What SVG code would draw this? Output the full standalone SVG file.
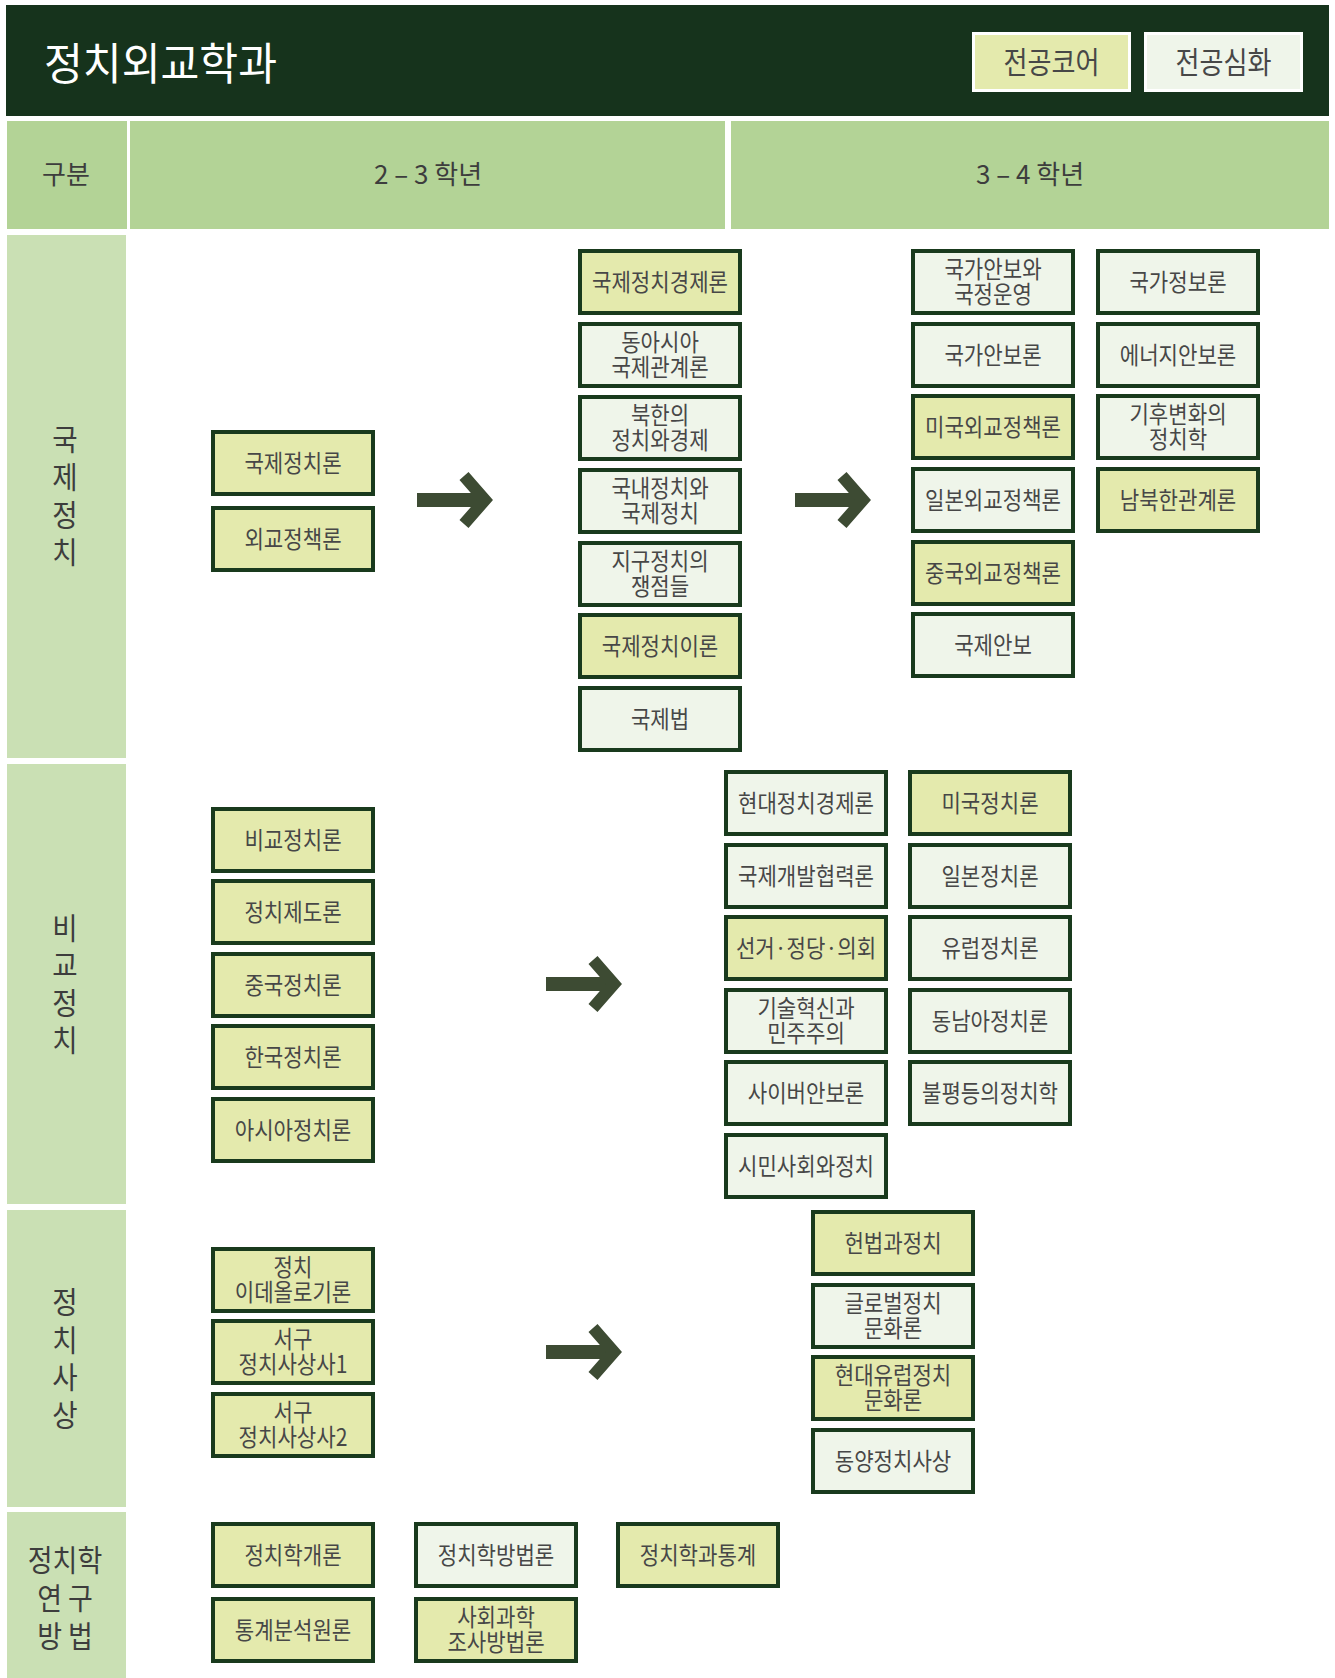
<svg xmlns="http://www.w3.org/2000/svg" width="1335" height="1678" viewBox="0 0 1335 1678">
  <defs>
    <style>
      .ko { font-family: "Noto Sans CJK KR", "Noto Sans", sans-serif; }
      .node rect { stroke: #193a1d; stroke-width: 4; }
      .core rect { fill: #e4eaad; }
      .adv rect { fill: #eff5ea; }
      .lbl { font-size: 24px; fill: #474747; text-anchor: middle; }
      .hdr { font-size: 26px; fill: #3d3d3d; text-anchor: middle; }
      .cat { font-size: 30px; fill: #3d3d3d; text-anchor: middle; }
      .legend rect { stroke: #ffffff; stroke-width: 3; }
      .legend text { font-size: 30px; fill: #474747; text-anchor: middle; }
      .arrow path { fill: none; stroke: #3d4b33; stroke-linejoin: miter; stroke-linecap: butt; }
    </style>
    <!-- right-pointing block arrow: shaft plus chevron head -->
    <g id="arrow-shape" class="arrow">
      <path d="M0 0 H70" stroke-width="14"/>
      <path d="M47 -24 L68 0 L47 24" stroke-width="12"/>
    </g>
  </defs>

  <rect width="1335" height="1678" fill="#ffffff"/>

  <!-- title bar -->
  <g id="title-bar">
    <rect x="6" y="5" width="1323" height="111" fill="#16331c"/>
    <text class="ko" transform="translate(44 80) scale(0.96 1)" font-size="44" fill="#ffffff">정치외교학과</text>
  </g>

  <!-- legend -->
  <g id="legend-core" class="legend core">
    <rect x="973.5" y="33.5" width="156" height="57" fill="#e4eaad"/>
    <text class="ko" transform="translate(1051.5 73) scale(0.87 1)">전공코어</text>
  </g>
  <g id="legend-adv" class="legend adv">
    <rect x="1145.5" y="33.5" width="156" height="57" fill="#eff5ea"/>
    <text class="ko" transform="translate(1223.5 73) scale(0.87 1)">전공심화</text>
  </g>

  <!-- column header row -->
  <g id="header-row">
    <rect x="7" y="121" width="120" height="108" fill="#b3d396"/>
    <rect x="130" y="121" width="595" height="108" fill="#b3d396"/>
    <rect x="731" y="121" width="598" height="108" fill="#b3d396"/>
    <text class="ko hdr" x="66" y="184">구분</text>
    <text class="ko hdr" x="428" y="184">2 – 3 학년</text>
    <text class="ko hdr" x="1030" y="184">3 – 4 학년</text>
  </g>

  <!-- category column -->
  <g id="categories">
    <rect x="7" y="235" width="119" height="523" fill="#cae0b4"/>
    <rect x="7" y="764" width="119" height="440" fill="#cae0b4"/>
    <rect x="7" y="1210" width="119" height="297" fill="#cae0b4"/>
    <rect x="7" y="1512" width="119" height="166" fill="#cae0b4"/>
    <g class="ko cat">
      <text transform="translate(65 0) scale(0.92 1)"><tspan x="0" y="450">국</tspan><tspan x="0" y="488">제</tspan><tspan x="0" y="526">정</tspan><tspan x="0" y="563">치</tspan></text>
      <text transform="translate(65 0) scale(0.92 1)"><tspan x="0" y="939">비</tspan><tspan x="0" y="976">교</tspan><tspan x="0" y="1014">정</tspan><tspan x="0" y="1051">치</tspan></text>
      <text transform="translate(65 0) scale(0.92 1)"><tspan x="0" y="1313">정</tspan><tspan x="0" y="1351">치</tspan><tspan x="0" y="1388">사</tspan><tspan x="0" y="1426">상</tspan></text>
      <text transform="translate(65 0) scale(0.9 1)"><tspan x="0" y="1571">정치학</tspan><tspan x="0" y="1609">연 구</tspan><tspan x="0" y="1647">방 법</tspan></text>
    </g>
  </g>

  <!-- connectors -->
  <g id="connectors">
    <use href="#arrow-shape" transform="translate(417 500)"/>
    <use href="#arrow-shape" transform="translate(795 500)"/>
    <use href="#arrow-shape" transform="translate(546 984)"/>
    <use href="#arrow-shape" transform="translate(546 1352)"/>
  </g>

  <!-- 국제정치 -->
  <g id="n-ip-theory" class="node core ko" transform="translate(211 430)"><rect x="2" y="2" width="160" height="62"/><text class="lbl" transform="translate(82 42) scale(0.88 1)">국제정치론</text></g>
  <g id="n-foreign-policy" class="node core ko" transform="translate(211 506)"><rect x="2" y="2" width="160" height="62"/><text class="lbl" transform="translate(82 42) scale(0.88 1)">외교정책론</text></g>

  <g id="n-ipe" class="node core ko" transform="translate(578 249)"><rect x="2" y="2" width="160" height="62"/><text class="lbl" transform="translate(82 42) scale(0.88 1)">국제정치경제론</text></g>
  <g id="n-east-asia-ir" class="node adv ko" transform="translate(578 322)"><rect x="2" y="2" width="160" height="62"/><text class="lbl" transform="translate(82 0) scale(0.88 1)"><tspan x="0" y="29">동아시아</tspan><tspan x="0" y="54">국제관계론</tspan></text></g>
  <g id="n-nk-politics" class="node adv ko" transform="translate(578 395)"><rect x="2" y="2" width="160" height="62"/><text class="lbl" transform="translate(82 0) scale(0.88 1)"><tspan x="0" y="29">북한의</tspan><tspan x="0" y="54">정치와경제</tspan></text></g>
  <g id="n-domestic-intl" class="node adv ko" transform="translate(578 468)"><rect x="2" y="2" width="160" height="62"/><text class="lbl" transform="translate(82 0) scale(0.88 1)"><tspan x="0" y="29">국내정치와</tspan><tspan x="0" y="54">국제정치</tspan></text></g>
  <g id="n-global-issues" class="node adv ko" transform="translate(578 541)"><rect x="2" y="2" width="160" height="62"/><text class="lbl" transform="translate(82 0) scale(0.88 1)"><tspan x="0" y="29">지구정치의</tspan><tspan x="0" y="54">쟁점들</tspan></text></g>
  <g id="n-ir-theory" class="node core ko" transform="translate(578 613)"><rect x="2" y="2" width="160" height="62"/><text class="lbl" transform="translate(82 42) scale(0.88 1)">국제정치이론</text></g>
  <g id="n-intl-law" class="node adv ko" transform="translate(578 686)"><rect x="2" y="2" width="160" height="62"/><text class="lbl" transform="translate(82 42) scale(0.88 1)">국제법</text></g>

  <g id="n-natsec-gov" class="node adv ko" transform="translate(911 249)"><rect x="2" y="2" width="160" height="62"/><text class="lbl" transform="translate(82 0) scale(0.88 1)"><tspan x="0" y="29">국가안보와</tspan><tspan x="0" y="54">국정운영</tspan></text></g>
  <g id="n-natsec" class="node adv ko" transform="translate(911 322)"><rect x="2" y="2" width="160" height="62"/><text class="lbl" transform="translate(82 42) scale(0.88 1)">국가안보론</text></g>
  <g id="n-us-fp" class="node core ko" transform="translate(911 394)"><rect x="2" y="2" width="160" height="62"/><text class="lbl" transform="translate(82 42) scale(0.88 1)">미국외교정책론</text></g>
  <g id="n-jp-fp" class="node adv ko" transform="translate(911 467)"><rect x="2" y="2" width="160" height="62"/><text class="lbl" transform="translate(82 42) scale(0.88 1)">일본외교정책론</text></g>
  <g id="n-cn-fp" class="node core ko" transform="translate(911 540)"><rect x="2" y="2" width="160" height="62"/><text class="lbl" transform="translate(82 42) scale(0.88 1)">중국외교정책론</text></g>
  <g id="n-intl-security" class="node adv ko" transform="translate(911 612)"><rect x="2" y="2" width="160" height="62"/><text class="lbl" transform="translate(82 42) scale(0.88 1)">국제안보</text></g>

  <g id="n-intelligence" class="node adv ko" transform="translate(1096 249)"><rect x="2" y="2" width="160" height="62"/><text class="lbl" transform="translate(82 42) scale(0.88 1)">국가정보론</text></g>
  <g id="n-energy-sec" class="node adv ko" transform="translate(1096 322)"><rect x="2" y="2" width="160" height="62"/><text class="lbl" transform="translate(82 42) scale(0.88 1)">에너지안보론</text></g>
  <g id="n-climate" class="node adv ko" transform="translate(1096 394)"><rect x="2" y="2" width="160" height="62"/><text class="lbl" transform="translate(82 0) scale(0.88 1)"><tspan x="0" y="29">기후변화의</tspan><tspan x="0" y="54">정치학</tspan></text></g>
  <g id="n-inter-korean" class="node core ko" transform="translate(1096 467)"><rect x="2" y="2" width="160" height="62"/><text class="lbl" transform="translate(82 42) scale(0.88 1)">남북한관계론</text></g>

  <!-- 비교정치 -->
  <g id="n-comparative" class="node core ko" transform="translate(211 807)"><rect x="2" y="2" width="160" height="62"/><text class="lbl" transform="translate(82 42) scale(0.88 1)">비교정치론</text></g>
  <g id="n-institutions" class="node core ko" transform="translate(211 879)"><rect x="2" y="2" width="160" height="62"/><text class="lbl" transform="translate(82 42) scale(0.88 1)">정치제도론</text></g>
  <g id="n-china-pol" class="node core ko" transform="translate(211 952)"><rect x="2" y="2" width="160" height="62"/><text class="lbl" transform="translate(82 42) scale(0.88 1)">중국정치론</text></g>
  <g id="n-korea-pol" class="node core ko" transform="translate(211 1024)"><rect x="2" y="2" width="160" height="62"/><text class="lbl" transform="translate(82 42) scale(0.88 1)">한국정치론</text></g>
  <g id="n-asia-pol" class="node core ko" transform="translate(211 1097)"><rect x="2" y="2" width="160" height="62"/><text class="lbl" transform="translate(82 42) scale(0.88 1)">아시아정치론</text></g>

  <g id="n-modern-pe" class="node adv ko" transform="translate(724 770)"><rect x="2" y="2" width="160" height="62"/><text class="lbl" transform="translate(82 42) scale(0.88 1)">현대정치경제론</text></g>
  <g id="n-dev-coop" class="node adv ko" transform="translate(724 843)"><rect x="2" y="2" width="160" height="62"/><text class="lbl" transform="translate(82 42) scale(0.88 1)">국제개발협력론</text></g>
  <g id="n-elections" class="node core ko" transform="translate(724 915)"><rect x="2" y="2" width="160" height="62"/><text class="lbl" transform="translate(82 42) scale(0.88 1)">선거·정당·의회</text></g>
  <g id="n-tech-democracy" class="node adv ko" transform="translate(724 988)"><rect x="2" y="2" width="160" height="62"/><text class="lbl" transform="translate(82 0) scale(0.88 1)"><tspan x="0" y="29">기술혁신과</tspan><tspan x="0" y="54">민주주의</tspan></text></g>
  <g id="n-cyber" class="node adv ko" transform="translate(724 1060)"><rect x="2" y="2" width="160" height="62"/><text class="lbl" transform="translate(82 42) scale(0.88 1)">사이버안보론</text></g>
  <g id="n-civil-society" class="node adv ko" transform="translate(724 1133)"><rect x="2" y="2" width="160" height="62"/><text class="lbl" transform="translate(82 42) scale(0.88 1)">시민사회와정치</text></g>

  <g id="n-us-pol" class="node core ko" transform="translate(908 770)"><rect x="2" y="2" width="160" height="62"/><text class="lbl" transform="translate(82 42) scale(0.88 1)">미국정치론</text></g>
  <g id="n-jp-pol" class="node adv ko" transform="translate(908 843)"><rect x="2" y="2" width="160" height="62"/><text class="lbl" transform="translate(82 42) scale(0.88 1)">일본정치론</text></g>
  <g id="n-eu-pol" class="node adv ko" transform="translate(908 915)"><rect x="2" y="2" width="160" height="62"/><text class="lbl" transform="translate(82 42) scale(0.88 1)">유럽정치론</text></g>
  <g id="n-sea-pol" class="node adv ko" transform="translate(908 988)"><rect x="2" y="2" width="160" height="62"/><text class="lbl" transform="translate(82 42) scale(0.88 1)">동남아정치론</text></g>
  <g id="n-inequality" class="node adv ko" transform="translate(908 1060)"><rect x="2" y="2" width="160" height="62"/><text class="lbl" transform="translate(82 42) scale(0.88 1)">불평등의정치학</text></g>

  <!-- 정치사상 -->
  <g id="n-ideology" class="node core ko" transform="translate(211 1247)"><rect x="2" y="2" width="160" height="62"/><text class="lbl" transform="translate(82 0) scale(0.88 1)"><tspan x="0" y="29">정치</tspan><tspan x="0" y="54">이데올로기론</tspan></text></g>
  <g id="n-western-1" class="node core ko" transform="translate(211 1319)"><rect x="2" y="2" width="160" height="62"/><text class="lbl" transform="translate(82 0) scale(0.88 1)"><tspan x="0" y="29">서구</tspan><tspan x="0" y="54">정치사상사1</tspan></text></g>
  <g id="n-western-2" class="node core ko" transform="translate(211 1392)"><rect x="2" y="2" width="160" height="62"/><text class="lbl" transform="translate(82 0) scale(0.88 1)"><tspan x="0" y="29">서구</tspan><tspan x="0" y="54">정치사상사2</tspan></text></g>

  <g id="n-constitution" class="node core ko" transform="translate(811 1210)"><rect x="2" y="2" width="160" height="62"/><text class="lbl" transform="translate(82 42) scale(0.88 1)">헌법과정치</text></g>
  <g id="n-global-culture" class="node adv ko" transform="translate(811 1283)"><rect x="2" y="2" width="160" height="62"/><text class="lbl" transform="translate(82 0) scale(0.88 1)"><tspan x="0" y="29">글로벌정치</tspan><tspan x="0" y="54">문화론</tspan></text></g>
  <g id="n-eu-culture" class="node core ko" transform="translate(811 1355)"><rect x="2" y="2" width="160" height="62"/><text class="lbl" transform="translate(82 0) scale(0.88 1)"><tspan x="0" y="29">현대유럽정치</tspan><tspan x="0" y="54">문화론</tspan></text></g>
  <g id="n-eastern-thought" class="node adv ko" transform="translate(811 1428)"><rect x="2" y="2" width="160" height="62"/><text class="lbl" transform="translate(82 42) scale(0.88 1)">동양정치사상</text></g>

  <!-- 정치학 연구방법 -->
  <g id="n-intro" class="node core ko" transform="translate(211 1522)"><rect x="2" y="2" width="160" height="62"/><text class="lbl" transform="translate(82 42) scale(0.88 1)">정치학개론</text></g>
  <g id="n-methodology" class="node adv ko" transform="translate(414 1522)"><rect x="2" y="2" width="160" height="62"/><text class="lbl" transform="translate(82 42) scale(0.88 1)">정치학방법론</text></g>
  <g id="n-statistics" class="node core ko" transform="translate(616 1522)"><rect x="2" y="2" width="160" height="62"/><text class="lbl" transform="translate(82 42) scale(0.88 1)">정치학과통계</text></g>
  <g id="n-stat-analysis" class="node core ko" transform="translate(211 1597)"><rect x="2" y="2" width="160" height="62"/><text class="lbl" transform="translate(82 42) scale(0.88 1)">통계분석원론</text></g>
  <g id="n-survey" class="node core ko" transform="translate(414 1597)"><rect x="2" y="2" width="160" height="62"/><text class="lbl" transform="translate(82 0) scale(0.88 1)"><tspan x="0" y="29">사회과학</tspan><tspan x="0" y="54">조사방법론</tspan></text></g>
</svg>
